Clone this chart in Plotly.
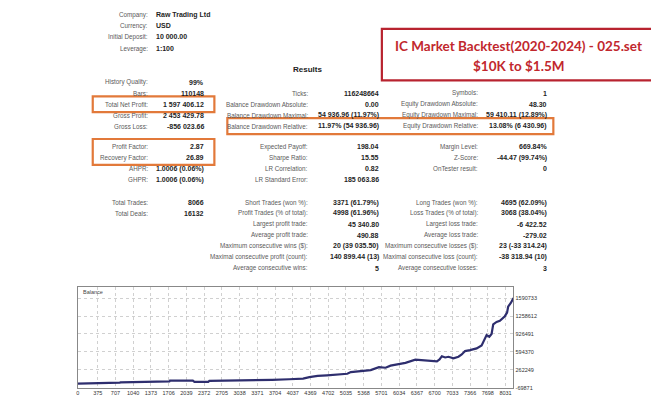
import plotly.graph_objects as go

W, H = 659, 400

# ---- report data ----
header_labels = ["Company:", "Currency:", "Initial Deposit:", "Leverage:"]
header_values = ["Raw Trading Ltd", "USD", "10 000.00", "1:100"]

left_labels = ["History Quality:", "Bars:", "Total Net Profit:", "Gross Profit:", "Gross Loss:",
               "Profit Factor:", "Recovery Factor:", "AHPR:", "GHPR:",
               "Total Trades:", "Total Deals:"]
left_values = ["99%", "110148", "1 597 406.12", "2 453 429.78", "-856 023.66",
               "2.87", "26.89", "1.0006 (0.06%)", "1.0006 (0.06%)",
               "8066", "16132"]

mid_labels = ["Ticks:", "Balance Drawdown Absolute:", "Balance Drawdown Maximal:",
              "Balance Drawdown Relative:", "Expected Payoff:", "Sharpe Ratio:",
              "LR Correlation:", "LR Standard Error:", "Short Trades (won %):",
              "Profit Trades (% of total):", "Largest profit trade:", "Average profit trade:",
              "Maximum consecutive wins ($):", "Maximal consecutive profit (count):",
              "Average consecutive wins:"]
mid_values = ["116248664", "0.00", "54 936.96 (11.97%)", "11.97% (54 936.96)",
              "198.04", "15.55", "0.82", "185 063.86", "3371 (61.79%)",
              "4998 (61.96%)", "45 340.80", "490.88", "20 (39 035.50)",
              "140 899.44 (13)", "5"]

right_labels = ["Symbols:", "Equity Drawdown Absolute:", "Equity Drawdown Maximal:",
                "Equity Drawdown Relative:", "Margin Level:", "Z-Score:", "OnTester result:",
                "Long Trades (won %):", "Loss Trades (% of total):", "Largest loss trade:",
                "Average loss trade:", "Maximum consecutive losses ($):",
                "Maximal consecutive loss (count):", "Average consecutive losses:"]
right_values = ["1", "48.30", "59 410.11 (12.89%)", "13.08% (6 430.96)", "669.84%",
                "-44.47 (99.74%)", "0", "4695 (62.09%)", "3068 (38.04%)", "-6 422.52",
                "-279.02", "23 (-33 314.24)", "-38 318.94 (10)", "3"]

title_lines = ["IC Market Backtest(2020-2024) - 025.set", "$10K to $1.5M"]

# ---- balance curve ----
trades = [0, 370, 380, 790, 800, 1370, 1380, 1720, 1730, 2160, 2190, 2450, 2470, 3200,
          3650, 3970, 4230, 4348, 4504, 4678, 5001, 5060, 5126, 5343, 5499, 5654, 5720,
          5779, 5872, 6009, 6152, 6338, 6431, 6556, 6743, 6792, 6836, 6898, 6960, 7054,
          7147, 7209, 7271, 7364, 7489, 7582, 7632, 7676, 7726, 7769, 7800, 7863, 7925,
          8018, 8060, 8080, 8130, 8180]
balance = [10000, 12000, 25000, 26000, 33000, 36000, 46000, 48000, 64000, 62000, 40000,
           42000, 58000, 62000, 77000, 89000, 100000, 128000, 150000, 160000, 178000,
           190000, 222000, 235000, 258000, 312000, 300000, 302000, 340000, 362000, 392000,
           450000, 445000, 428000, 420000, 455000, 515000, 492000, 505000, 476000, 505000,
           548000, 610000, 628000, 660000, 715000, 812000, 905000, 875000, 925000, 1105000,
           1150000, 1170000, 1255000, 1320000, 1430000, 1500000, 1590000]

x_ticks = [0, 375, 707, 1040, 1373, 1706, 2039, 2372, 2705, 3038, 3371, 3704, 4037, 4369,
           4702, 5035, 5368, 5701, 6034, 6367, 6700, 7033, 7366, 7698, 8031]
y_ticks = [-69871, 262249, 594370, 926491, 1258612, 1590733]


def px(x):
    return x / W


def py(y):
    return 1 - y / H


LABEL_FONT = dict(family="Liberation Sans", size=6.3, color="#5a5a5a")
VALUE_FONT = dict(family="Liberation Sans", size=7, color="#1e1e1e")

annotations = []


def add_text(text, x, y, anchor, font, bold=False):
    annotations.append(dict(
        text="<b>%s</b>" % text if bold else text,
        x=px(x), y=py(y), xref="paper", yref="paper",
        xanchor=anchor, yanchor="middle", showarrow=False, font=font))


header_y = [7, 18, 29, 41]
for lab, val, y in zip(header_labels, header_values, header_y):
    add_text(lab, 140, y, "right", LABEL_FONT)
    add_text(val, 144, y, "left", VALUE_FONT, bold=True)

add_text("Results", 298, 62, "center", dict(family="Liberation Sans", size=8, color="#222"), bold=True)

left_y = [75, 86, 97, 108, 119, 140, 151, 162, 173, 196, 207]
for lab, val, y in zip(left_labels, left_values, left_y):
    add_text(lab, 140, y, "right", LABEL_FONT)
    add_text(val, 197, y, "right", VALUE_FONT, bold=True)

mid_y = [86, 97, 108, 119, 140, 151, 162, 173, 196, 207, 218, 229, 240, 251, 262]
for lab, val, y in zip(mid_labels, mid_values, mid_y):
    add_text(lab, 301, y, "right", LABEL_FONT)
    add_text(val, 372, y, "right", VALUE_FONT, bold=True)

right_y = [86, 97, 108, 119, 140, 151, 162, 196, 207, 218, 229, 240, 251, 262]
for lab, val, y in zip(right_labels, right_values, right_y):
    add_text(lab, 471, y, "right", LABEL_FONT)
    add_text(val, 541, y, "right", VALUE_FONT, bold=True)

# title in red box
for line, y in zip(title_lines, [38, 58]):
    add_text(line, 510, y, "center", dict(family="Lato", size=13.5, color="#c1272d"), bold=True)

add_text("Balance", 71, 286, "left", dict(family="Liberation Sans", size=5.5, color="#444"))

# boxes
ORANGE = "#e2793a"
shapes = []
for x0, y0, x1, y1, col in [(83, 89, 205, 105, ORANGE), (218, 111, 545, 127, ORANGE),
                            (83, 132, 205, 158, ORANGE), (373, 21, 648, 73, "#b8232f")]:
    shapes.append(dict(type="rect", xref="paper", yref="paper",
                       x0=px(x0), x1=px(x1), y0=py(y1), y1=py(y0),
                       line=dict(color=col, width=2.2), fillcolor="rgba(0,0,0,0)"))

fig = go.Figure()
fig.add_trace(go.Scatter(x=trades, y=balance, mode="lines",
                         line=dict(color="#2e2e6e", width=2.2), hoverinfo="skip"))

fig.update_layout(
    width=W, height=H,
    margin=dict(l=0, r=0, t=0, b=0),
    paper_bgcolor="white", plot_bgcolor="white",
    showlegend=False,
    annotations=annotations,
    shapes=shapes,
    xaxis=dict(domain=[px(68), px(505)], range=[0, 8180],
               tickvals=x_ticks, ticktext=[str(t) for t in x_ticks],
               tickfont=dict(family="Liberation Sans", size=5.5, color="#333"),
               showgrid=True, gridcolor="#d0d0d0", griddash="dot", gridwidth=1,
               showline=True, linecolor="#888888", linewidth=1, mirror=True,
               zeroline=False, ticks="", ticklen=0, ticklabelstandoff=-1),
    yaxis=dict(domain=[py(383), py(281)], range=[-75000, 1797000], side="right",
               tickvals=y_ticks, ticktext=[str(t) for t in y_ticks],
               tickfont=dict(family="Liberation Sans", size=5.5, color="#333"),
               showgrid=True, gridcolor="#d0d0d0", griddash="dot", gridwidth=1,
               showline=True, linecolor="#888888", linewidth=1, mirror=True,
               zeroline=False, ticks="", ticklen=0),
)

fig.write_html("out.html")
